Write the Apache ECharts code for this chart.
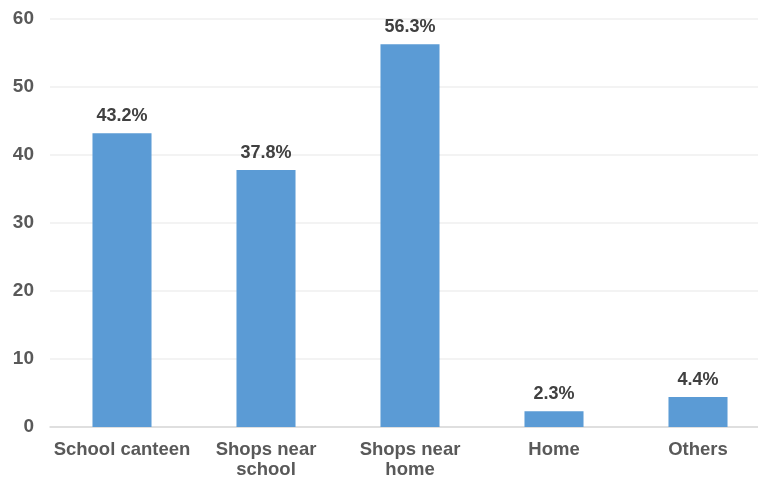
<!DOCTYPE html>
<html>
<head>
<meta charset="utf-8">
<script src="https://cdn.jsdelivr.net/npm/echarts@6/dist/echarts.min.js"></script>
<style>html,body{margin:0;padding:0;background:#fff;overflow:hidden;width:758px;height:480px;}#c{width:770px;height:480px;}</style>
</head>
<body>
<div id="c"></div>
<script>
const categories = ['School canteen', 'Shops near\nschool', 'Shops near\nhome', 'Home', 'Others'];
const values = [43.2, 37.8, 56.3, 2.3, 4.4];
const yTicks = [0, 10, 20, 30, 40, 50, 60];

const chart = echarts.init(document.getElementById('c'));
const font = '"Liberation Sans", Arial, Helvetica, sans-serif';
chart.setOption({
  animation: false,
  grid: { left: 50, top: 19, right: 0, bottom: 52, containLabel: false },
  xAxis: {
    type: 'category',
    data: categories,
    axisLine: { lineStyle: { color: '#d9d9d9', width: 1.5 } },
    axisTick: { show: false },
    axisLabel: { color: '#595959', fontSize: 18.5, fontWeight: 'bold', fontFamily: font, margin: 13, lineHeight: 20, interval: 0 }
  },
  yAxis: {
    type: 'value',
    min: yTicks[0], max: yTicks[yTicks.length - 1], interval: 10,
    axisLine: { show: false },
    axisTick: { show: false },
    splitLine: { lineStyle: { color: '#efefef', width: 1.5 } },
    axisLabel: { color: '#595959', fontSize: 19, fontWeight: 'bold', fontFamily: font, margin: 16 }
  },
  series: [{
    type: 'bar',
    data: values,
    barWidth: '41%',
    itemStyle: { color: '#5b9bd5' },
    label: {
      show: true, position: 'top', distance: 8,
      formatter: p => p.value.toFixed(1) + '%',
      color: '#404040', fontSize: 18, fontWeight: 'bold', fontFamily: font
    }
  }]
});
</script>
</body>
</html>
